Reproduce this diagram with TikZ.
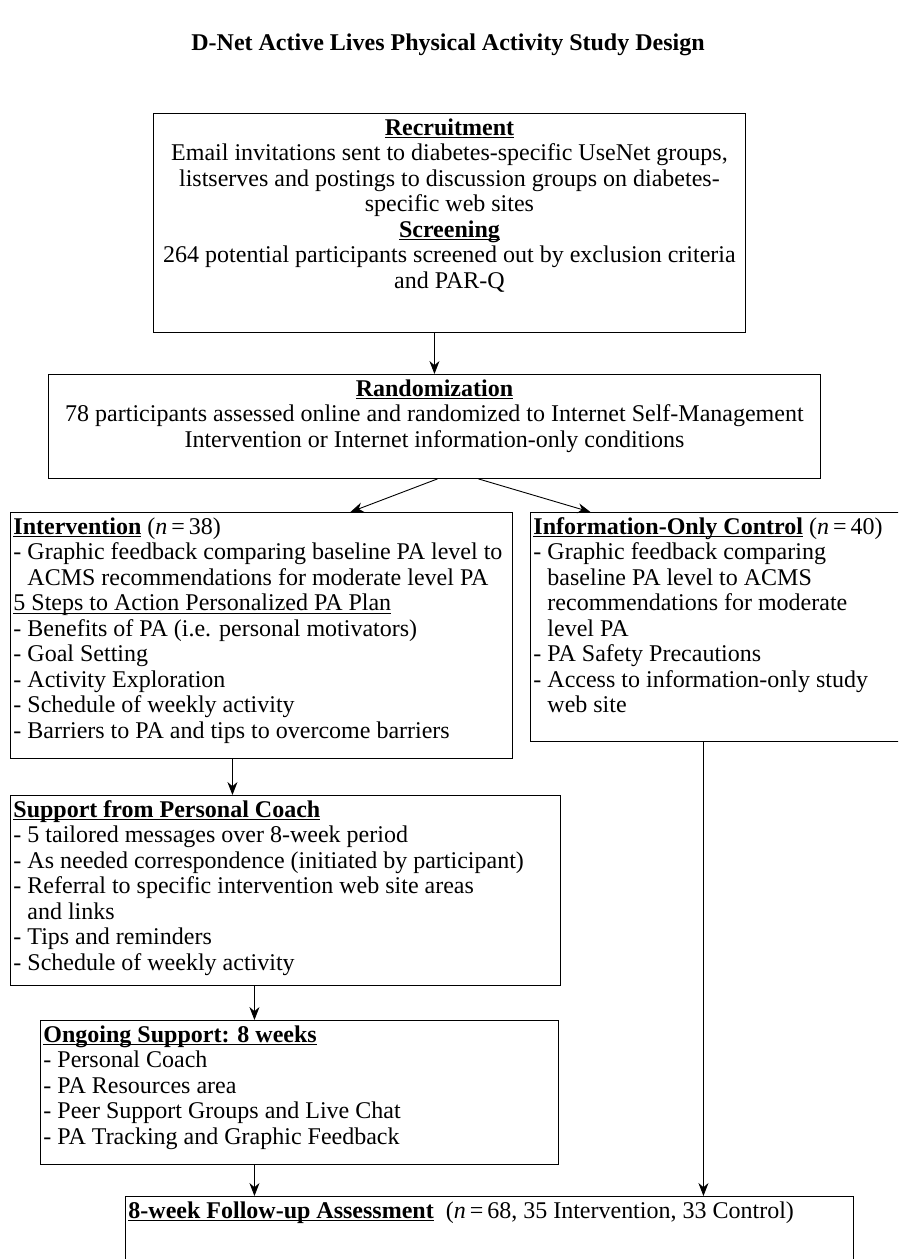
\documentclass[tikz,border=0pt]{standalone}
\usepackage{fontspec}
\setmainfont{Liberation Serif}
\usetikzlibrary{arrows.meta}

\newcommand{\stagefont}{\fontsize{24}{25.5}\selectfont}
\newcommand{\contline}{\hphantom{- }}
\newcommand{\ulhead}[1]{\leavevmode\setbox0=\hbox{#1}\rlap{\rule[-3pt]{\wd0}{0.9pt}}\box0\relax}

\begin{document}
\begin{tikzpicture}[x=1pt, y=-1pt,
  stage/.style={draw, line width=0.9pt, anchor=north west, inner xsep=3pt, inner ysep=4pt, font=\stagefont},
  flow/.style={-{Stealth[length=13pt,width=10pt]}, line width=0.9pt}]

  \useasboundingbox (0,0) rectangle (898,1259);
  \clip (0,0) rectangle (898,1259);

  \node[font=\bfseries\stagefont] (title) at (448,45) {D-Net Active Lives Physical Activity Study Design};

  \node[stage] (recruit) at (153,113) {\parbox[c][211pt][t]{586pt}{\centering\strut
    \ulhead{\textbf{Recruitment}}\\
    Email invitations sent to diabetes-specific UseNet groups,\\
    listserves and postings to discussion groups on diabetes-\\
    specific web sites\\
    \ulhead{\textbf{Screening}}\\
    264 potential participants screened out by exclusion criteria\\
    and PAR-Q}};

  \node[stage] (rand) at (48,374) {\parbox[c][96pt][t]{766pt}{\centering\strut
    \ulhead{\textbf{Randomization}}\\
    78 participants assessed online and randomized to Internet Self-Management\\
    Intervention or Internet information-only conditions}};

  \node[stage] (inter) at (10,512) {\parbox[c][238pt][t]{496pt}{\strut
    \ulhead{\textbf{Intervention}} (\textit{n}\,=\,38)\\
    - Graphic feedback comparing baseline PA level to\\
    \contline ACMS recommendations for moderate level PA\\
    \ulhead{5 Steps to Action Personalized PA Plan}\\
    - Benefits of PA (i.e. personal motivators)\\
    - Goal Setting\\
    - Activity Exploration\\
    - Schedule of weekly activity\\
    - Barriers to PA and tips to overcome barriers}};

  \node[stage] (ctrl) at (530,512) {\parbox[c][221pt][t]{363pt}{\strut
    \ulhead{\textbf{Information-Only Control}} (\textit{n}\,=\,40)\\
    - Graphic feedback comparing\\
    \contline baseline PA level to ACMS\\
    \contline recommendations for moderate\\
    \contline level PA\\
    - PA Safety Precautions\\
    - Access to information-only study\\
    \contline web site}};

  \node[stage] (supp) at (10,795) {\parbox[c][182pt][t]{544pt}{\strut
    \ulhead{\textbf{Support from Personal Coach}}\\
    - 5 tailored messages over 8-week period\\
    - As needed correspondence (initiated by participant)\\
    - Referral to specific intervention web site areas\\
    \contline and links\\
    - Tips and reminders\\
    - Schedule of weekly activity}};

  \node[stage] (ongo) at (40,1020) {\parbox[c][136pt][t]{512pt}{\strut
    \ulhead{\textbf{Ongoing Support: 8 weeks}}\\
    - Personal Coach\\
    - PA Resources area\\
    - Peer Support Groups and Live Chat\\
    - PA Tracking and Graphic Feedback}};

  \node[stage] (follow) at (125,1196) {\parbox[c][72pt][t]{722pt}{\strut
    \ulhead{\textbf{8-week Follow-up Assessment}}\ \ (\textit{n}\,=\,68, 35 Intervention, 33 Control)}};

  \path[] (recruit.south -| rand.north) [flow] edge (rand.north);
  \path[] ([xshift=3pt]rand.south) [flow] edge ([xshift=89pt]inter.north);
  \path[] ([xshift=44pt]rand.south) [flow] edge ([xshift=-124.5pt]ctrl.north);
  \path[] ([xshift=-29pt]inter.south) [flow] edge ([xshift=-29pt]inter.south |- supp.north);
  \path[] ([xshift=-31pt]supp.south) [flow] edge ([xshift=-31pt]supp.south |- ongo.north);
  \path[] ([xshift=-45pt]ongo.south) [flow] edge ([xshift=-45pt]ongo.south |- follow.north);
  \path[] ([xshift=-11.5pt]ctrl.south) [flow] edge ([xshift=-11.5pt]ctrl.south |- follow.north);
\end{tikzpicture}
\end{document}
